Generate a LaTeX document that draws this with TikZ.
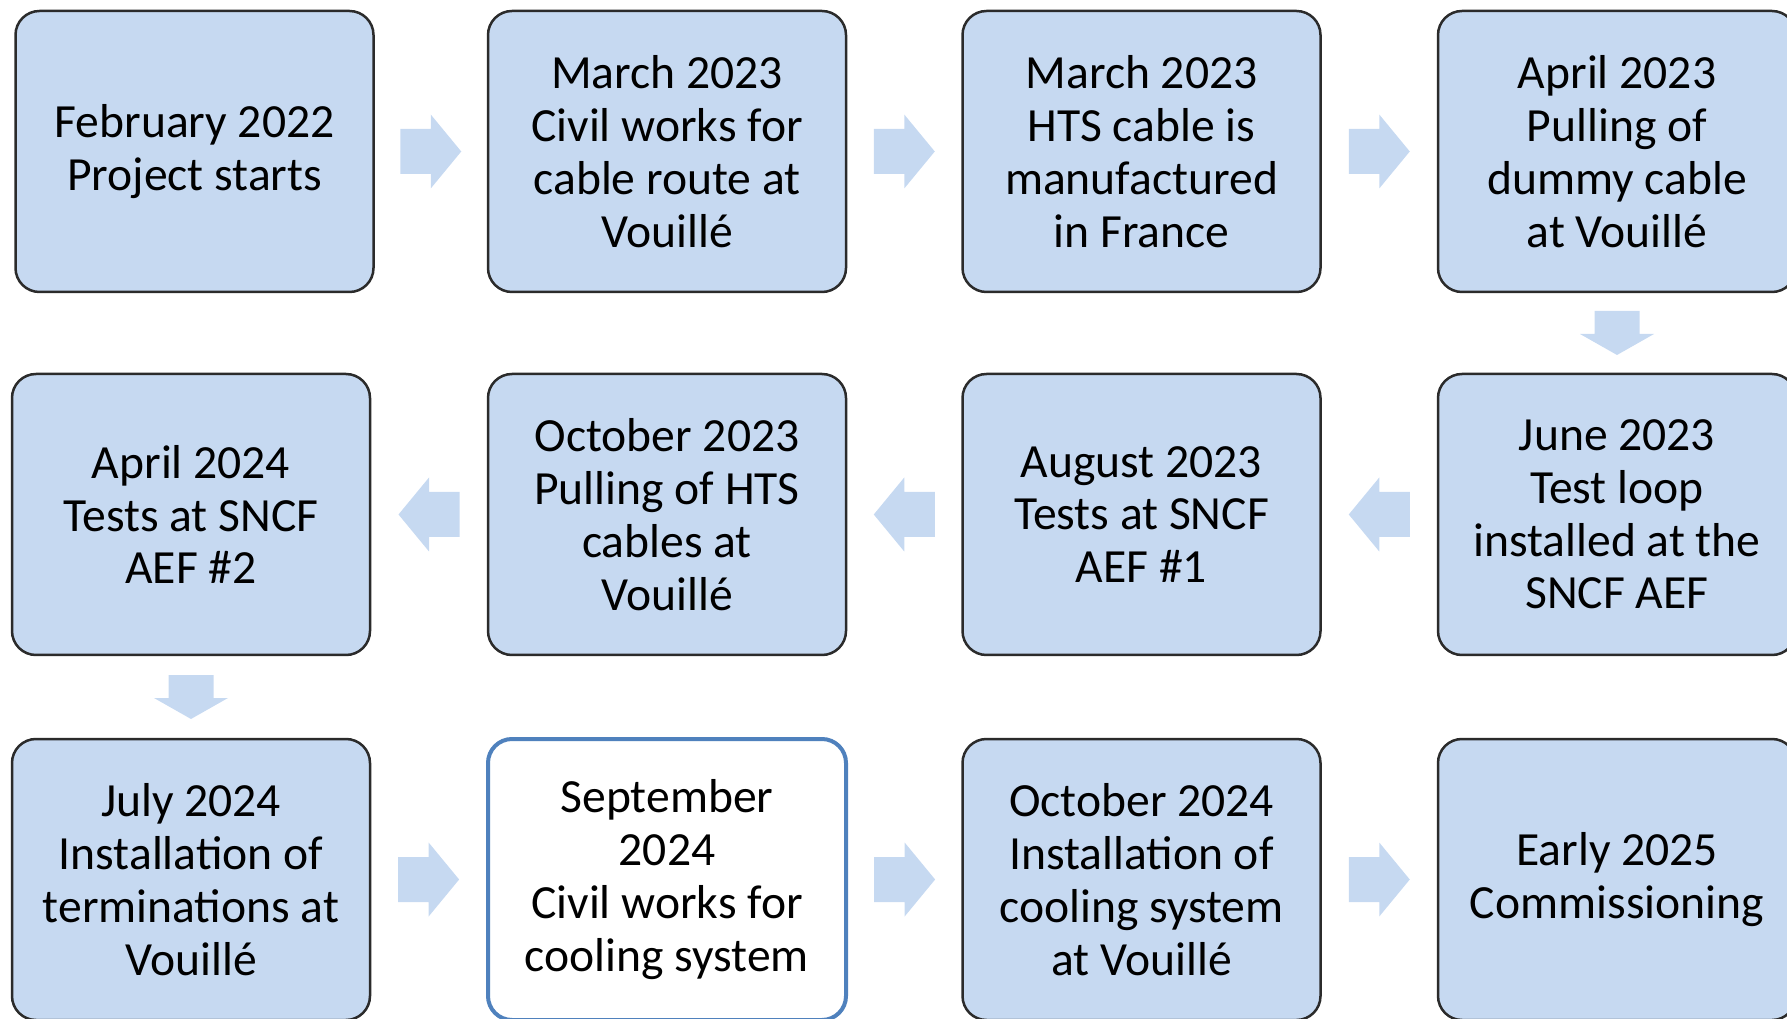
\documentclass[tikz,border=0pt]{standalone}
\usepackage{fontspec}
\setmainfont{Carlito}
\usetikzlibrary{calc}
\definecolor{boxfill}{HTML}{C6D9F1}
\definecolor{boxline}{HTML}{2B2B2B}
\definecolor{hiline}{HTML}{4F81BD}
\tikzset{
  stepbox/.style={draw=boxline, line width=2.5pt, fill=boxfill, rounded corners=24pt,
    minimum width=358pt, minimum height=281pt, inner sep=0pt, align=center,
    font=\fontsize{47.6}{52.8}\selectfont},
  hibox/.style={stepbox, draw=hiline, line width=4pt, fill=white},
  blockarrow/.pic={\fill[boxfill] (-30.5,-22.5) -- (0,-22.5) -- (0,-37) -- (30.5,0) -- (0,37) -- (0,22.5) -- (-30.5,22.5) -- cycle;},
  shortarrow/.pic={\fill[boxfill] (-22,-22.5) -- (1,-22.5) -- (1,-37) -- (22,0) -- (1,37) -- (1,22.5) -- (-22,22.5) -- cycle;}
}
\begin{document}
\begin{tikzpicture}[x=1pt,y=1pt]
\useasboundingbox (0,0) rectangle (1787,1018);
% row 1
\node[stepbox] (b1) at (194.5,866.5) {February 2022\\Project starts};
\node[stepbox] (b2) at (667,866.5) {March 2023\\Civil works for\\cable route at\\Vouillé};
\node[stepbox] (b3) at (1141.5,866.5) {March 2023\\HTS cable is\\manufactured\\in France};
\node[stepbox] (b4) at (1617,866.5) {April 2023\\Pulling of\\dummy cable\\at Vouillé};
% row 2
\node[stepbox] (b5) at (1617,503.5) {June 2023\\Test loop\\installed at the\\SNCF AEF};
\node[stepbox] (b6) at (1141.5,503.5) {August 2023\\Tests at SNCF\\AEF \#1};
\node[stepbox] (b7) at (667,503.5) {October 2023\\Pulling of HTS\\cables at\\Vouillé};
\node[stepbox] (b8) at (191,503.5) {April 2024\\Tests at SNCF\\AEF \#2};
% row 3
\node[stepbox] (b9) at (191,138.5) {July 2024\\Installation of\\terminations at\\Vouillé};
\node[hibox] (b10) at (667,138.5) {September\\2024\\Civil works for\\cooling system};
\node[stepbox] (b11) at (1141.5,138.5) {October 2024\\Installation of\\cooling system\\at Vouillé};
\node[stepbox] (b12) at (1617,138.5) {Early 2025\\Commissioning};
% arrows
\pic at ($(b1.east)!0.5!(b2.west)$) {blockarrow};
\pic at ($(b2.east)!0.5!(b3.west)$) {blockarrow};
\pic at ($(b3.east)!0.5!(b4.west)$) {blockarrow};
\pic[rotate=-90] at ($(b4.south)!0.5!(b5.north)$) {shortarrow};
\pic[rotate=180] at ($(b5.west)!0.5!(b6.east)$) {blockarrow};
\pic[rotate=180] at ($(b6.west)!0.5!(b7.east)$) {blockarrow};
\pic[rotate=180] at ($(b7.west)!0.5!(b8.east)$) {blockarrow};
\pic[rotate=-90] at ($(b8.south)!0.5!(b9.north)$) {shortarrow};
\pic at ($(b9.east)!0.5!(b10.west)$) {blockarrow};
\pic at ($(b10.east)!0.5!(b11.west)$) {blockarrow};
\pic at ($(b11.east)!0.5!(b12.west)$) {blockarrow};
\end{tikzpicture}
\end{document}
